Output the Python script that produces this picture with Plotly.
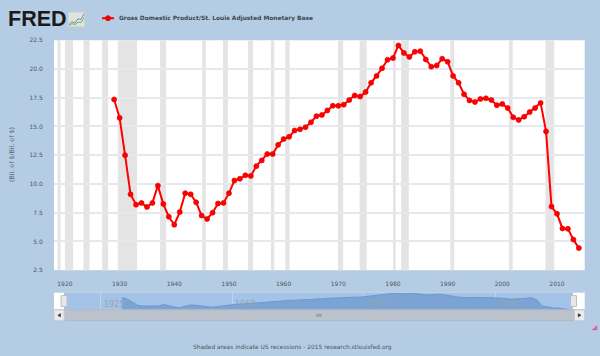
import plotly.graph_objects as go

W, H = 600, 356
years = list(range(1929, 2015))
ratio = [17.35, 15.75, 12.5, 9.1, 8.2, 8.35, 8.0, 8.35, 9.85, 8.25, 7.15, 6.45, 7.55, 9.2, 9.1, 8.4,
         7.25, 6.95, 7.5, 8.3, 8.35, 9.2, 10.3, 10.45, 10.75, 10.7, 11.55, 12.05, 12.6, 12.6, 13.4,
         13.9, 14.1, 14.65, 14.75, 14.94, 15.37, 15.9, 16.0, 16.4, 16.8, 16.8, 16.9, 17.3, 17.7,
         17.6, 18.0, 18.8, 19.4, 20.06, 20.8, 20.95, 22.05, 21.4, 21.05, 21.5, 21.55, 20.83, 20.2,
         20.3, 20.9, 20.63, 19.4, 18.8, 17.8, 17.27, 17.13, 17.4, 17.45, 17.3, 16.85, 16.96, 16.6,
         15.8, 15.57, 15.85, 16.25, 16.6, 17.05, 14.57, 8.03, 7.4, 6.13, 6.1, 5.16, 4.42]
recession_start = [1918.67, 1920.0, 1923.4, 1926.8, 1929.67, 1937.4, 1945.1, 1948.9, 1953.5,
                   1957.67, 1960.3, 1969.95, 1973.9, 1980.0, 1981.5, 1990.5, 2001.2, 2007.9]
recession_end = [1919.2, 1921.5, 1924.5, 1927.9, 1933.2, 1938.5, 1945.75, 1949.8, 1954.4,
                 1958.3, 1961.1, 1970.9, 1975.2, 1980.5, 1982.9, 1991.2, 2001.9, 2009.5]
y_ticks = [2.5, 5.0, 7.5, 10.0, 12.5, 15.0, 17.5, 20.0, 22.5]
x_ticks = list(range(1920, 2011, 10))
nav_ticks = [1925, 1950, 1975, 2000]
series_name = "Gross Domestic Product/St. Louis Adjusted Monetary Base"
y_title = "(Bil. of $/Bil. of $)"
footer = "Shaded areas indicate US recessions - 2015 research.stlouisfed.org"

BG = "#b5cde4"
TXT = "#4d5560"
FONT = "DejaVu Sans"


def px(x):
    return x / W


def py(y):
    return 1 - y / H


def rect(x0, y0, x1, y1, fill, line=None, layer="above"):
    return dict(type="rect", xref="paper", yref="paper", x0=px(x0), x1=px(x1), y0=py(y0), y1=py(y1),
                fillcolor=fill, line=dict(color=line or fill, width=1 if line else 0), layer=layer)


def pline(pts, color, width=1, fill=None):
    d = "M" + " L".join(f"{px(a):.5f},{py(b):.5f}" for a, b in pts)
    if fill:
        d += " Z"
    return dict(type="path", xref="paper", yref="paper", path=d, fillcolor=fill,
                line=dict(color=color, width=width), layer="above")


def label(x, y, text, size, color=TXT, anchor="left", family=FONT, angle=0):
    return dict(xref="paper", yref="paper", x=px(x), y=py(y), text=text, showarrow=False,
                xanchor=anchor, yanchor="middle", textangle=angle,
                font=dict(family=family, size=size, color=color))


fig = go.Figure()
fig.add_trace(go.Scatter(x=years, y=ratio, mode="lines+markers", name=series_name,
                         line=dict(color="#ff0000", width=2),
                         marker=dict(color="#ff0000", size=5, line=dict(color="rgba(235,0,0,0.7)", width=1)),
                         xaxis="x", yaxis="y", showlegend=False))
fig.add_trace(go.Scatter(x=years, y=ratio, mode="lines", fill="tozeroy",
                         line=dict(color="#6d9acf", width=1), fillcolor="#7ba4d4",
                         xaxis="x2", yaxis="y2", showlegend=False, hoverinfo="skip"))

shapes = [dict(type="rect", xref="x", yref="y domain", x0=a, x1=b, y0=0, y1=1,
               fillcolor="#e4e4e4", line=dict(width=0), layer="below")
          for a, b in zip(recession_start, recession_end)]
shapes += [
    rect(64, 294, 573, 312, "#a3c3e8", layer="below"),
    rect(54, 312, 584.5, 323, "#bcc3cd", "#b0b8c4"),
    rect(54, 312, 64, 323, "#ebebeb", "#c9ced6"),
    rect(574.5, 312, 584.5, 323, "#ebebeb", "#c9ced6"),
    pline([(60.5, 315.8), (60.5, 319.2), (57.8, 317.5)], "#333333", 0.5, "#333333"),
    pline([(578.2, 315.8), (578.2, 319.2), (581, 317.5)], "#333333", 0.5, "#333333"),
    rect(61, 297.5, 67, 308.5, "#e8e8e8", "#b8bec8"),
    rect(570.5, 297.5, 576.5, 308.5, "#e8e8e8", "#b8bec8"),
    pline([(317, 316), (317, 319)], "#666666", 0.7),
    pline([(319, 316), (319, 319)], "#666666", 0.7),
    pline([(321, 316), (321, 319)], "#666666", 0.7),
    pline([(54, 294), (584.5, 294)], "#c6d0dc", 1),
    pline([(102, 14.5), (114, 14.5)], "#ff0000", 2),
    dict(type="circle", xref="paper", yref="paper", x0=px(105.5), x1=px(110.5), y0=py(17), y1=py(12),
         fillcolor="#ff0000", line=dict(color="#e60000", width=1), layer="above"),
    rect(68.5, 8.5, 84.5, 23, "#dfe4dc", "#cfd6cf"),
    pline([(69, 21), (72, 18), (75, 19.5), (78, 15), (81, 16), (84, 10)], "#6f8fb5", 1),
    pline([(69, 22), (72, 20), (75, 21), (78, 18.5), (81, 19), (84, 14)], "#8aa66a", 1),
    pline([(592, 332.5), (597, 332.5), (597, 328)], "#e05aa8", 0.5, "#e05aa8"),
]

annotations = [
    label(5.5, 15.5, "<b>FRED</b>", 21.5, "#1a1a1a", family="Liberation Sans"),
    label(117, 14.5, f"<b>{series_name}</b>", 5.9, "#3d4550"),
    label(12, 154, y_title, 6.3, "#59636e", anchor="center", angle=-90),
    label(292.5, 350, footer, 5.9, "#4d5560", anchor="center"),
]
for t in nav_ticks:
    annotations.append(dict(xref="x2", yref="paper", x=t, y=py(306.8), text=str(t), showarrow=False,
                            xanchor="left", xshift=1, yanchor="middle",
                            font=dict(family=FONT, size=8, color="#97a3b2")))

fig.update_layout(
    width=W, height=H, autosize=False,
    margin=dict(l=0, r=0, t=0, b=0),
    paper_bgcolor=BG, plot_bgcolor="#ffffff",
    showlegend=False, shapes=shapes, annotations=annotations,
    hovermode=False,
    xaxis=dict(domain=[px(54), px(584.7)], range=[1918.0, 2015.07], tickmode="array", tickvals=x_ticks,
               ticktext=[str(v) for v in x_ticks], showgrid=False, zeroline=False, showline=False,
               ticks="outside", ticklen=8, tickcolor=BG, tickwidth=1,
               tickfont=dict(family=FONT, size=6, color=TXT), anchor="y"),
    yaxis=dict(domain=[py(271.5), py(37)], range=[2.5, 22.5], tickmode="array", tickvals=y_ticks,
               ticktext=[f"{v:.1f}" for v in y_ticks], showgrid=True, gridcolor="#e7e7ef", gridwidth=1.5,
               zeroline=False, showline=False, ticks="outside", ticklen=9, tickcolor=BG, tickwidth=1,
               tickfont=dict(family=FONT, size=6, color=TXT), anchor="x"),
    xaxis2=dict(domain=[px(54), px(584.7)], range=[1916.1, 2017.06], tickmode="array", tickvals=nav_ticks,
                showticklabels=False, showgrid=True, gridcolor="rgba(210,225,240,0.6)", gridwidth=1,
                zeroline=False, showline=False, ticks="", anchor="y2"),
    yaxis2=dict(domain=[py(312), py(294)], range=[4.1, 23], showticklabels=False, showgrid=False,
                zeroline=False, showline=False, ticks="", anchor="x2", fixedrange=True),
)

fig.write_html("out.html", config=dict(displayModeBar=False),
               post_script="document.body.style.margin='0';document.body.style.overflow='hidden';")
